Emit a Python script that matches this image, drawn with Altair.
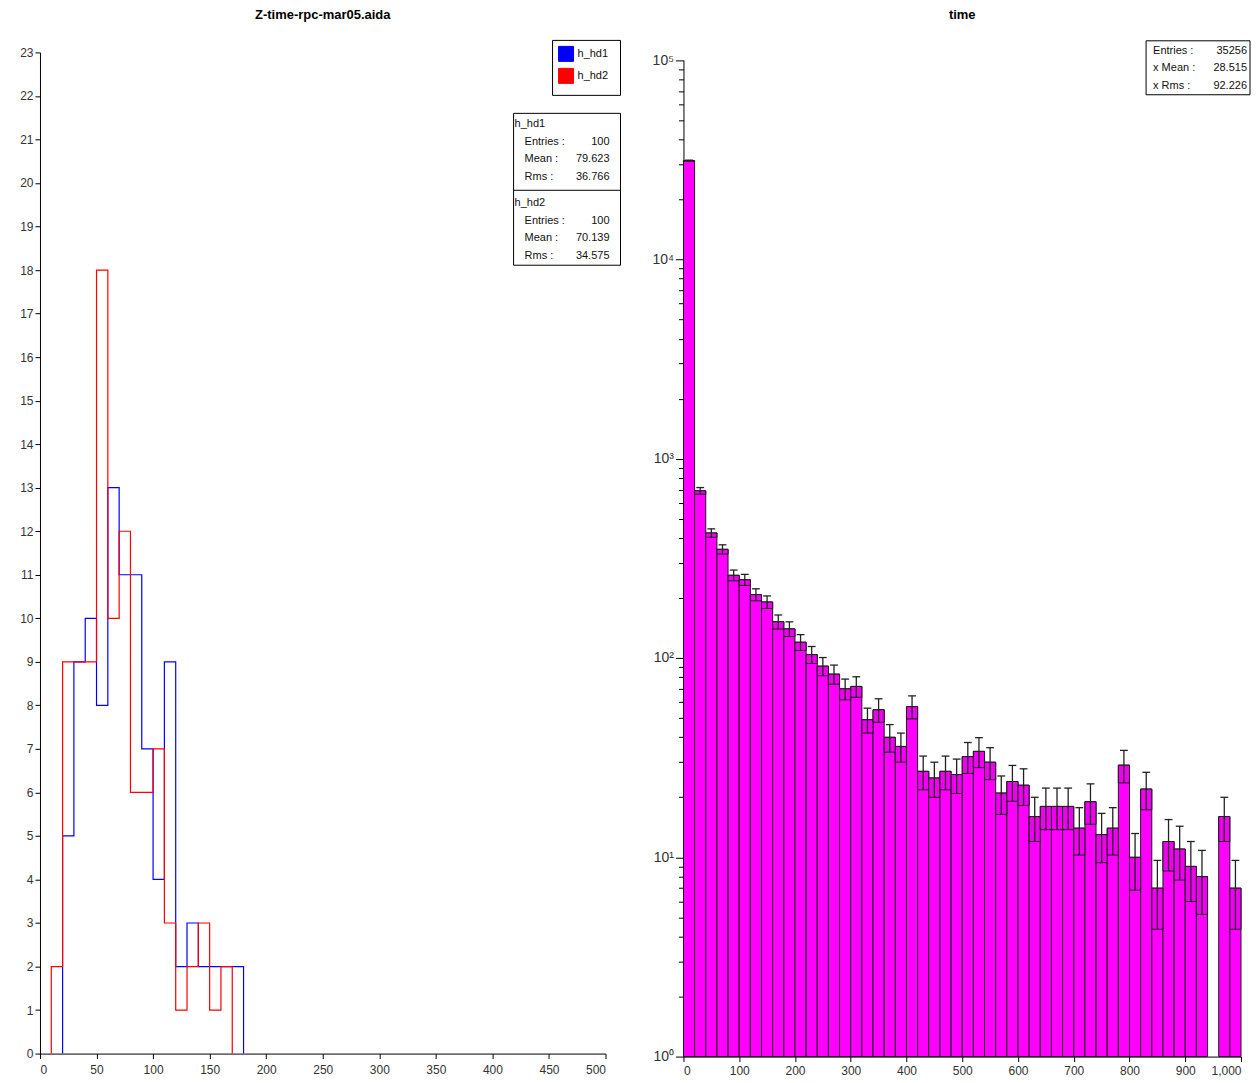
import altair as alt
import pandas as pd

FONT = "Liberation Sans"

# ---------------- left panel data (bin width 10) ----------------
hd1_bin_lo = [20, 30, 40, 50, 60, 70, 80, 90, 100, 110, 120, 130, 140, 150, 160, 170]
hd1_counts = [5, 9, 10, 8, 13, 11, 11, 7, 4, 9, 2, 3, 2, 2, 2, 2]
hd2_bin_lo = [10, 20, 30, 40, 50, 60, 70, 80, 90, 100, 110, 120, 130, 140, 150, 160]
hd2_counts = [2, 9, 9, 9, 18, 10, 12, 6, 6, 7, 3, 1, 2, 3, 1, 2]
left_bin_width = 10
series_names = ["h_hd1", "h_hd2"]
series_colors = ["#0000ff", "#ff0000"]

stat_labels = ["Entries :", "Mean :", "Rms :"]
hd1_stats = ["100", "79.623", "36.766"]
hd2_stats = ["100", "70.139", "34.575"]

# ---------------- right panel data (bin width 20) ----------------
time_bin_lo = list(range(0, 1000, 20))
time_counts = [31300, 690, 424, 351, 260, 247, 208, 191, 152, 140,
               120, 104, 91, 83, 70, 72, 49, 55, 40, 36,
               57, 27, 25, 27, 26, 32, 34, 30, 21, 24,
               23, 16, 18, 18, 18, 14, 19, 13, 14, 29,
               10, 22, 7, 12, 11, 9, 8, 0, 16, 7]
time_bin_width = 20
time_stat_labels = ["Entries :", "x Mean :", "x Rms :"]
time_stats = ["35256", "28.515", "92.226"]

one = pd.DataFrame({"a": [0]})


def step_rows(name, los, counts, w):
    rows = [{"series": name, "x": los[0], "y": 0, "i": 0}]
    for k, (lo, c) in enumerate(zip(los, counts)):
        rows.append({"series": name, "x": lo, "y": c, "i": k + 1})
    rows.append({"series": name, "x": los[-1] + w, "y": 0, "i": len(los) + 1})
    return rows


step_df = pd.DataFrame(step_rows("h_hd1", hd1_bin_lo, hd1_counts, left_bin_width)
                       + step_rows("h_hd2", hd2_bin_lo, hd2_counts, left_bin_width))

LW, LH = 566, 1002

lines = alt.Chart(step_df).mark_line(interpolate="step-after", strokeWidth=1.2).encode(
    x=alt.X("x:Q", scale=alt.Scale(domain=[0, 500], nice=False),
            axis=alt.Axis(values=list(range(0, 501, 50)), title=None, grid=False,
                          labelPadding=6)),
    y=alt.Y("y:Q", scale=alt.Scale(domain=[0, 23], nice=False),
            axis=alt.Axis(values=list(range(0, 24)), title=None, grid=False)),
    color=alt.Color("series:N", scale=alt.Scale(domain=series_names, range=series_colors),
                    legend=None),
    order="i:Q",
)


def text_layer(txt, px, py, align="left", size=11):
    return alt.Chart(one).mark_text(align=align, baseline="middle", font=FONT,
                                    fontSize=size, color="#111").encode(
        x=alt.value(px), y=alt.value(py), text=alt.value(txt))


def box_layer(x1, x2, y1, y2, fill="white", stroke="black"):
    return alt.Chart(one).mark_rect(fill=fill, stroke=stroke, strokeWidth=1).encode(
        x=alt.value(x1), x2=alt.value(x2), y=alt.value(y1), y2=alt.value(y2))


# legend box (top right of the left panel)
left_layers = [box_layer(513, 581, -12, 43)]
for k, (name, col) in enumerate(zip(series_names, series_colors)):
    cy = 1.5 + 22 * k
    left_layers.append(box_layer(519, 534, cy - 7.5, cy + 7.5, fill=col, stroke=col))
    left_layers.append(text_layer(name, 538, cy))

# statistics box
left_layers += [box_layer(474, 581, 61, 213),
                alt.Chart(one).mark_rule(color="black", strokeWidth=1).encode(
                    x=alt.value(474), x2=alt.value(581), y=alt.value(138))]
for block, (name, vals) in enumerate([("h_hd1", hd1_stats), ("h_hd2", hd2_stats)]):
    y0 = 72 + block * 79
    left_layers.append(text_layer(name, 475, y0))
    for j, (lab, val) in enumerate(zip(stat_labels, vals)):
        yy = y0 + 17.5 * (j + 1)
        left_layers.append(text_layer(lab, 485, yy))
        left_layers.append(text_layer(val, 570, yy, align="right"))

left = alt.layer(lines, *left_layers).properties(
    width=LW, height=LH,
    title=alt.TitleParams("Z-time-rpc-mar05.aida", font=FONT, fontSize=13,
                          fontWeight="bold", color="black", offset=18))

# ---------------- right panel ----------------
RW, RH = 558, 1005
time_df = pd.DataFrame({"lo": time_bin_lo, "n": time_counts})

base = alt.Chart(time_df).transform_filter("datum.n > 0").transform_calculate(
    hi="datum.lo + %d" % time_bin_width,
    mid="datum.lo + %d" % (time_bin_width // 2),
    low="datum.n - sqrt(datum.n)",
    high="datum.n + sqrt(datum.n)",
    capl="datum.lo + %d - 7" % (time_bin_width // 2),
    capr="datum.lo + %d + 7" % (time_bin_width // 2),
)

minor_vals = []
for e in range(0, 5):
    for m in range(1, 10):
        minor_vals.append(m * 10 ** e)
minor_vals.append(100000)

is_major = "abs(log(datum.value)/LN10 - round(log(datum.value)/LN10)) < 0.001"
sup_expr = ("%s ? '10' + ['\u2070','\u00b9','\u00b2','\u00b3','\u2074','\u2075'][round(log(datum.value)/LN10)] : ''"
            % is_major)

bars = base.mark_rect(fill="#ff00ff", stroke="#1a1a1a", strokeWidth=1).encode(
    x=alt.X("lo:Q", scale=alt.Scale(domain=[0, 1000], nice=False),
            axis=alt.Axis(values=list(range(0, 1001, 100)), format=",d", title=None,
                          grid=False, labelPadding=4)),
    x2="hi:Q",
    y=alt.Y("n:Q", scale=alt.Scale(type="log", domain=[1, 100000], nice=False,
                                   range=[RH, 7.7]),
            axis=alt.Axis(values=minor_vals, labelExpr=sup_expr, title=None, grid=False,
                          labelFontSize=14,
                          tickSize={"condition": {"test": is_major, "value": 8}, "value": 5})),
    y2=alt.datum(1),
)
errbox = base.mark_rect(fill="#f000f0", stroke="#1a1a1a", strokeWidth=1).encode(
    x="lo:Q", x2="hi:Q", y="low:Q", y2="n:Q")
errline = base.mark_rule(color="#222222", strokeWidth=1.3).encode(
    x="mid:Q", y="low:Q", y2="high:Q")
cap = base.mark_rule(color="#222222", strokeWidth=1.3).encode(
    x="capl:Q", x2="capr:Q", y="high:Q")

right_layers = [box_layer(463, 567, -11.6, 42.4)]
for j, (lab, val) in enumerate(zip(time_stat_labels, time_stats)):
    yy = -1.6 + 17.5 * j
    right_layers.append(text_layer(lab, 470, yy))
    right_layers.append(text_layer(val, 564, yy, align="right"))

right = alt.layer(bars, errbox, errline, cap, *right_layers).properties(
    width=RW, height=RH,
    title=alt.TitleParams("time", font=FONT, fontSize=13, fontWeight="bold",
                          color="black", offset=18))

chart = alt.hconcat(left, right, spacing=78, bounds="flush").properties(
    padding={"left": 11, "top": 0, "right": 0, "bottom": 0}
).configure_view(stroke=None).configure_axis(
    labelFont=FONT, labelFontSize=12, labelColor="#333333",
    domainColor="black", tickColor="black", domainWidth=1, tickWidth=1,
)

chart.save("out.html", embed_options={"renderer": "svg", "actions": False})
